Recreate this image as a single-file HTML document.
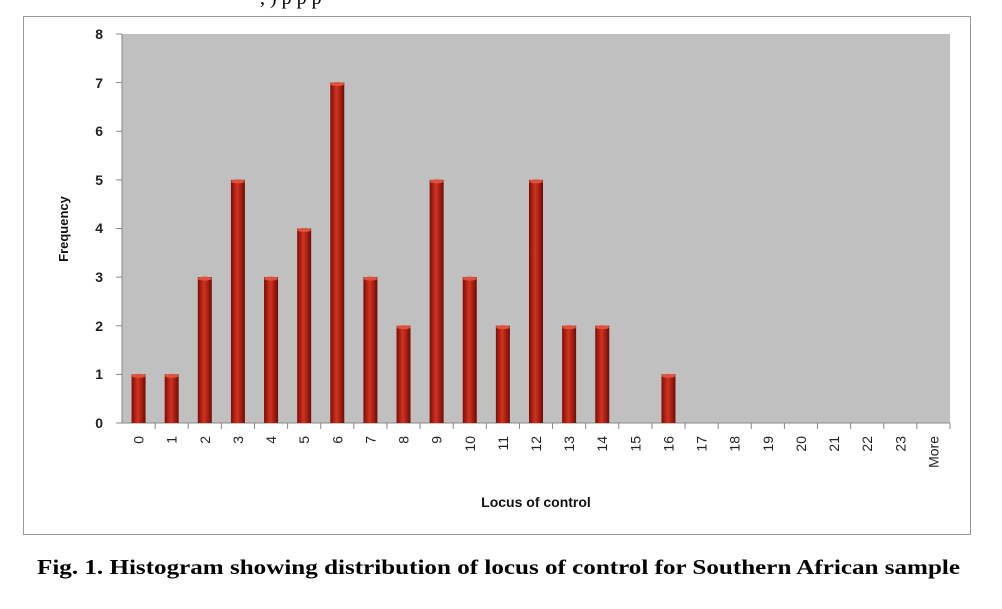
<!DOCTYPE html>
<html><head><style>
body{margin:0;background:#fff;width:1002px;height:604px;overflow:hidden;font-family:"Liberation Sans",sans-serif}
</style></head><body>
<svg width="1002" height="604" xmlns="http://www.w3.org/2000/svg">
<defs>
<linearGradient id="g" x1="0" x2="1" y1="0" y2="0">
<stop offset="0" stop-color="#7a0e08"/><stop offset="0.45" stop-color="#d4321f"/><stop offset="1" stop-color="#6e0c06"/>
</linearGradient>
</defs>
<text x="260" y="4" font-family="Liberation Serif" font-size="20" fill="#000">, ) p p p</text>
<rect x="23.5" y="16.5" width="947" height="518" fill="#fff" stroke="#999" stroke-width="1"/>
<rect x="122" y="34" width="828" height="389" fill="#c0c0c0"/>
<g stroke="#888" stroke-width="1">
<line x1="122" y1="34" x2="122" y2="423"/>
<line x1="122" y1="423" x2="950" y2="423"/>
<line x1="116" y1="34" x2="122" y2="34"/><line x1="116" y1="82.6" x2="122" y2="82.6"/>
<line x1="116" y1="131.3" x2="122" y2="131.3"/><line x1="116" y1="179.9" x2="122" y2="179.9"/>
<line x1="116" y1="228.5" x2="122" y2="228.5"/><line x1="116" y1="277.1" x2="122" y2="277.1"/>
<line x1="116" y1="325.8" x2="122" y2="325.8"/><line x1="116" y1="374.4" x2="122" y2="374.4"/>
<line x1="116" y1="423" x2="122" y2="423"/>
</g>
<g font-size="14" font-weight="bold" fill="#222" text-anchor="end">
<text x="103" y="39">8</text><text x="103" y="88">7</text><text x="103" y="136">6</text>
<text x="103" y="185">5</text><text x="103" y="233">4</text><text x="103" y="282">3</text>
<text x="103" y="331">2</text><text x="103" y="379">1</text><text x="103" y="428">0</text>
</g>
<text transform="translate(68,229) rotate(-90)" font-size="13" font-weight="bold" text-anchor="middle" fill="#111">Frequency</text>
<g id="bars"></g>
<g id="xt"></g>
<text x="536" y="507" font-size="14" font-weight="bold" text-anchor="middle" fill="#111">Locus of control</text>
<text x="37" y="574" font-family="Liberation Serif" font-size="21" font-weight="bold" fill="#000" textLength="923" lengthAdjust="spacingAndGlyphs">Fig. 1. Histogram showing distribution of locus of control for Southern African sample</text>
<script>
var v=[1,1,3,5,3,4,7,3,2,5,3,2,5,2,2,0,1,0,0,0,0,0,0,0,0];
var lab=["0","1","2","3","4","5","6","7","8","9","10","11","12","13","14","15","16","17","18","19","20","21","22","23","More"];
var s=828/25,ns="http://www.w3.org/2000/svg",b=document.getElementById("bars"),t=document.getElementById("xt");
for(var i=0;i<25;i++){
 var cx=122+s*(i+0.5);
 var tk=document.createElementNS(ns,"line");tk.setAttribute("x1",122+s*(i+1));tk.setAttribute("x2",122+s*(i+1));tk.setAttribute("y1",423);tk.setAttribute("y2",429);tk.setAttribute("stroke","#888");t.appendChild(tk);
 if(v[i]>0){var h=v[i]*48.625;
  var r=document.createElementNS(ns,"rect");r.setAttribute("x",cx-7);r.setAttribute("y",423-h);r.setAttribute("width",14);r.setAttribute("height",h);r.setAttribute("fill","url(#g)");b.appendChild(r);
  var e=document.createElementNS(ns,"ellipse");e.setAttribute("cx",cx);e.setAttribute("cy",423-h+1.5);e.setAttribute("rx",7);e.setAttribute("ry",2);e.setAttribute("fill","#e0503a");b.appendChild(e);}
 var tx=document.createElementNS(ns,"text");tx.setAttribute("transform","translate("+(cx+5)+",436) rotate(-90)");tx.setAttribute("text-anchor","end");tx.setAttribute("font-size","14");tx.setAttribute("fill","#222");tx.textContent=lab[i];t.appendChild(tx);
}
</script>
</svg>
</body></html>
